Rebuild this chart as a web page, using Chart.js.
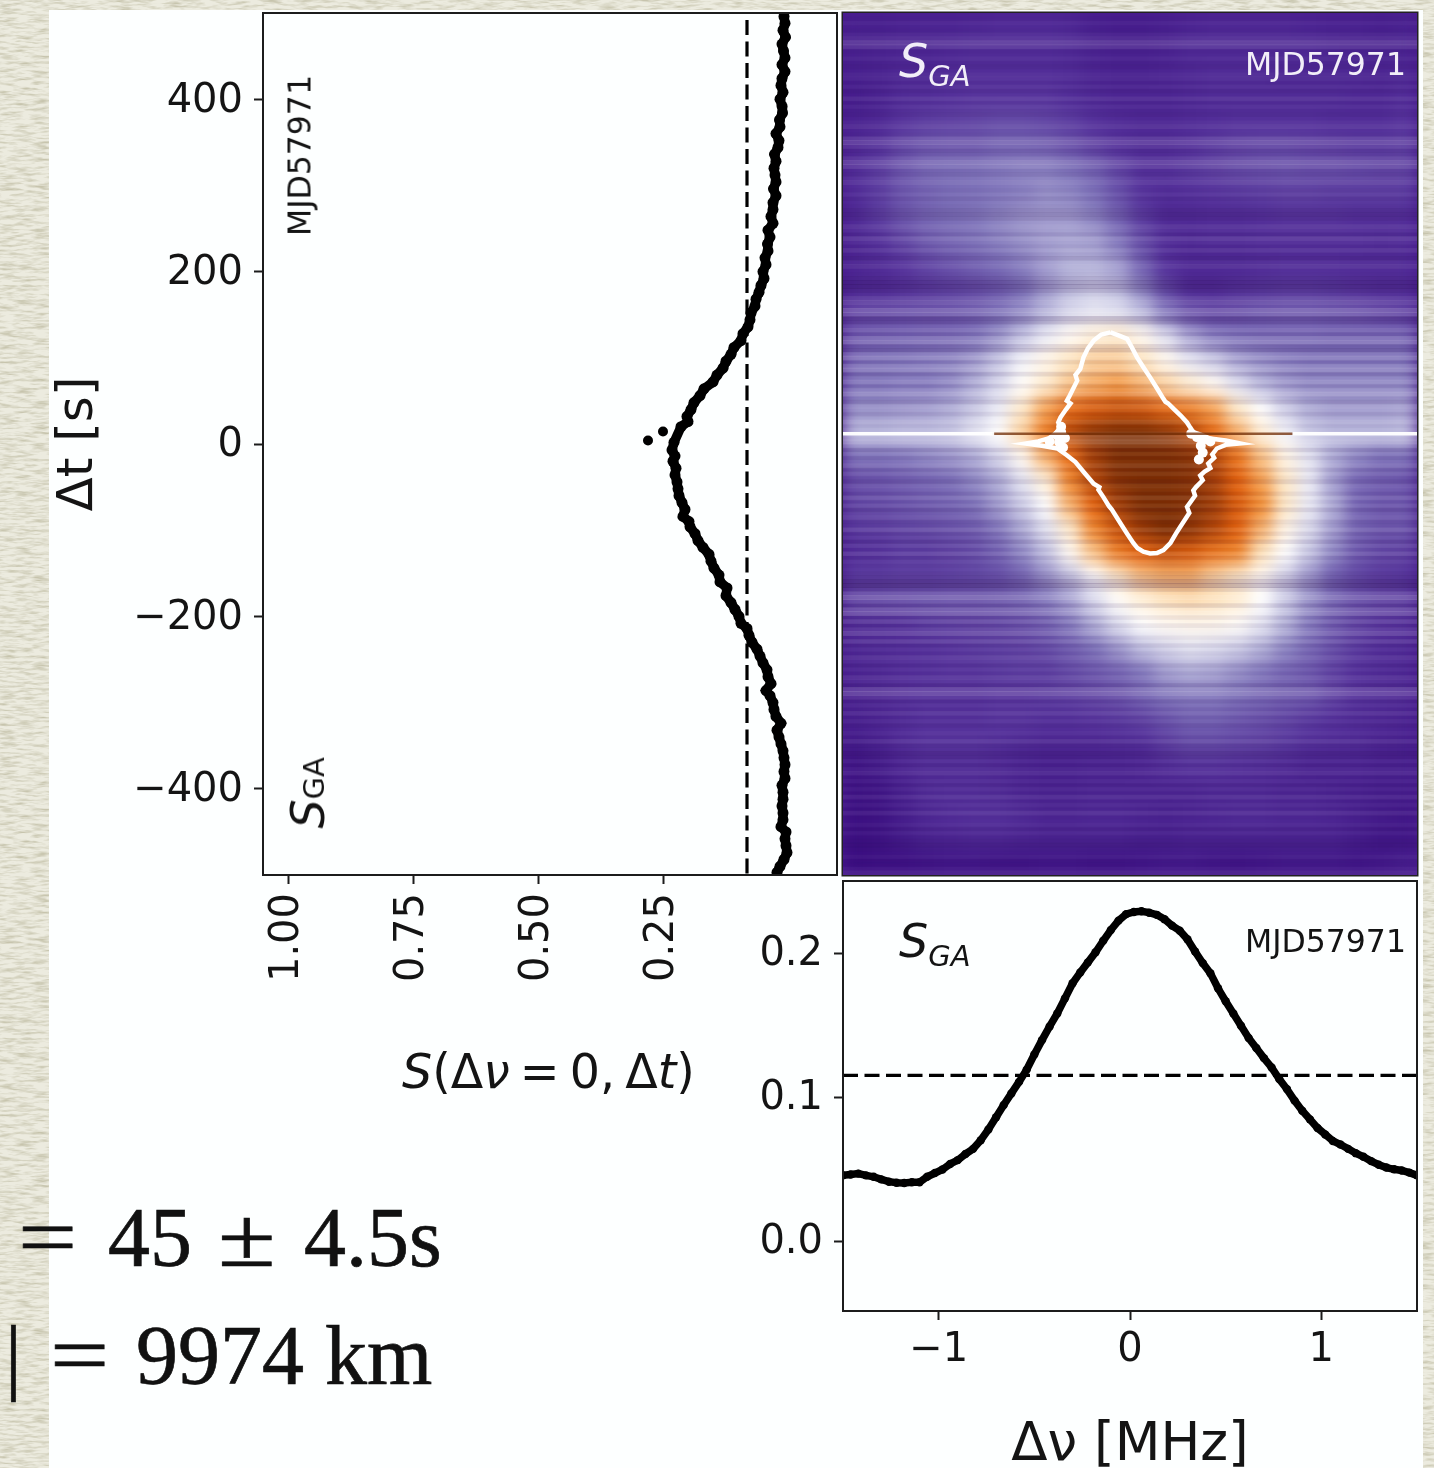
<!DOCTYPE html>
<html>
<head>
<meta charset="utf-8">
<title>S_GA MJD57971</title>
<script src="https://cdn.jsdelivr.net/npm/chart.js@4"></script>
<style>
html, body { margin: 0; padding: 0; width: 1434px; height: 1468px; overflow: hidden; background: #ecebdf; }
#textura { position: absolute; left: 0; top: 0; }
#folha { position: absolute; left: 49px; top: 10px; width: 1374px; height: 1458px; background: #fdffff; }
canvas { position: absolute; display: block; }
#graficoTempo, #graficoFreq { filter: blur(0.5px); }
#caixaCalor { position: absolute; left: 843px; top: 13px; width: 574px; height: 862px; overflow: hidden; background: #4a1a90; box-shadow: 0 0 0 1.5px #222; }
#graficoCalor { left: -30px; top: -30px; filter: blur(8px); }
#graficoFaixas { left: 843px; top: 13px; filter: blur(0.6px); }
#graficoContorno { left: 843px; top: 13px; filter: blur(0.5px); }
.txt { position: absolute; font-family: "DejaVu Sans", sans-serif; color: #141414; white-space: nowrap; line-height: 1; filter: blur(0.4px); }
.branco { color: #f2eef8; }
.sga { font-size: 46px; font-style: italic; }
.sga span { font-size: 29px; position: relative; top: 9px; }
.mjd { font-size: 31.5px; }
.vert { writing-mode: vertical-rl; transform: rotate(180deg); }
.eq { position: absolute; font-family: "Liberation Serif", serif; font-size: 84px; color: #111; white-space: pre; line-height: 1; -webkit-text-stroke: 0.7px #111; }
</style>
</head>
<body>
<svg id="textura" width="1434" height="1468">
  <filter id="papel" color-interpolation-filters="sRGB" x="0" y="0" width="100%" height="100%">
    <feTurbulence type="fractalNoise" baseFrequency="0.06 0.34" numOctaves="3" seed="7"/>
    <feColorMatrix type="matrix" values="0 0 0 0 0.78  0 0 0 0 0.77  0 0 0 0 0.68  2.4 0 0 0 -1.0"/>
  </filter>
  <rect width="1434" height="1468" filter="url(#papel)"/>
</svg>
<div id="folha"></div>

<canvas id="graficoTempo" width="790" height="1130" style="left:49px;top:0"></canvas>
<canvas id="graficoFreq" width="670" height="590" style="left:749px;top:878px"></canvas>
<div id="caixaCalor"><canvas id="graficoCalor" width="634" height="922"></canvas></div>
<canvas id="graficoFaixas" width="574" height="862"></canvas>
<canvas id="graficoContorno" width="574" height="862"></canvas>

<div class="txt sga branco" style="left:899px;top:38px"><i>S</i><span>GA</span></div>
<div class="txt mjd branco" style="left:1245px;top:49px">MJD57971</div>
<div class="txt sga" style="left:899px;top:918px"><i>S</i><span>GA</span></div>
<div class="txt mjd" style="left:1245px;top:926px">MJD57971</div>
<div class="txt mjd vert" style="left:285px;top:75px">MJD57971</div>
<div class="txt sga vert" style="left:285px;top:757px"><i>S</i><span style="font-style:normal;top:0;left:-6px">GA</span></div>
<div class="txt" style="left:402px;top:1048px;font-size:47.5px;word-spacing:-5px"><i>S</i>(Δ<i>ν</i> = 0, Δ<i>t</i>)</div>

<div class="eq" style="left:18px;top:1196px;transform:scaleX(1.25);transform-origin:left">=</div>
<div class="eq" style="left:108px;top:1196px">45</div>
<div class="eq" style="left:218px;top:1196px;transform:scaleX(1.25);transform-origin:left">±</div>
<div class="eq" style="left:304px;top:1196px">4.5s</div>
<div class="eq" style="left:5px;top:1314px">|</div>
<div class="eq" style="left:50px;top:1314px;transform:scaleX(1.25);transform-origin:left">=</div>
<div class="eq" style="left:136px;top:1314px">9974 km</div>

<script>
// Painel esquerdo: S(dnu=0, dt)
const deltaT = [496,488,480,472,464,456,448,440,432,424,416,408,400,392,384,376,368,360,352,344,336,328,320,312,304,296,288,280,272,264,256,248,240,232,224,216,208,200,192,184,176,168,160,152,144,136,128,120,112,104,96,88,80,72,64,56,48,40,32,26,20,2,-7,-14,-20,-28,-36,-44,-52,-60,-68,-76,-84,-90,-96,-104,-112,-120,-128,-136,-144,-152,-160,-167,-176,-184,-192,-200,-208,-214,-222,-230,-238,-246,-254,-262,-270,-278,-286,-292,-300,-308,-316,-324,-332,-340,-348,-356,-364,-372,-380,-388,-396,-404,-412,-420,-428,-436,-444,-450,-458,-466,-474,-482,-490,-497];
const sTempo = [.008,.006,.010,.005,.012,.009,.006,.012,.006,.012,.014,.010,.016,.012,.011,.017,.016,.024,.018,.020,.027,.024,.028,.026,.024,.029,.024,.030,.030,.034,.030,.040,.036,.041,.040,.046,.044,.050,.048,.054,.058,.064,.066,.074,.076,.080,.090,.094,.108,.114,.124,.130,.142,.150,.168,.176,.188,.194,.202,.200,.214,.228,.232,.226,.230,.224,.226,.222,.220,.218,.212,.206,.210,.198,.196,.186,.180,.170,.158,.154,.148,.138,.136,.122,.124,.114,.106,.098,.094,.082,.078,.072,.062,.056,.050,.042,.040,.034,.044,.036,.030,.028,.024,.014,.022,.018,.014,.010,.008,.006,.008,.006,.012,.010,.010,.012,.010,.010,.014,.004,.006,.004,.002,.008,.016,.022];
const deltaTSoltos = [14.5, 4];
const sSoltos = [.25, .28];
const limiarTempo = 0.082;
const ticksTempoY = [400,200,0,-200,-400];
const rotulosTempoY = ['400','200','0','−200','−400'];
const ticksTempoX = [1,.75,.5,.25];
const rotulosTempoX = ['1.00','0.75','0.50','0.25'];

// Painel de baixo: S(dnu, dt=0)
const deltaNu = [-1.5,-1.46,-1.42,-1.38,-1.34,-1.30,-1.26,-1.22,-1.18,-1.14,-1.10,-1.06,-1.02,-.98,-.94,-.90,-.86,-.82,-.78,-.74,-.70,-.66,-.62,-.58,-.54,-.50,-.46,-.42,-.38,-.34,-.30,-.26,-.22,-.18,-.14,-.10,-.06,-.02,.02,.06,.10,.14,.18,.22,.26,.30,.34,.38,.42,.46,.50,.54,.58,.62,.66,.70,.74,.78,.82,.86,.90,.94,.98,1.02,1.06,1.10,1.14,1.18,1.22,1.26,1.30,1.34,1.38,1.42,1.46,1.5];
const sFreq = [.0456,.0462,.0468,.0456,.0446,.0428,.0412,.0405,.0403,.0408,.0408,.0446,.0472,.0497,.0535,.0562,.0604,.0640,.0700,.0775,.0860,.0945,.1025,.1105,.1190,.1295,.1395,.1490,.1580,.1685,.1790,.1865,.1935,.2005,.2085,.2160,.2225,.2270,.2285,.2290,.2280,.2265,.2235,.2190,.2155,.2095,.2010,.1930,.1860,.1755,.1665,.1580,.1495,.1410,.1340,.1270,.1205,.1125,.1055,.0975,.0905,.0845,.0785,.0740,.0695,.0670,.0640,.0610,.0585,.0555,.0530,.0510,.0498,.0490,.0475,.0456];
const limiarFreq = 0.115;
const ticksFreqY = [.2,.1,0];
const rotulosFreqY = ['0.2','0.1','0.0'];
const ticksFreqX = [-1,0,1];
const rotulosFreqX = ['−1','0','1'];

// Mapa de calor, 0-100 (50 = branco), de cima para baixo, esquerda para direita
const linhasCalor = [
[9,9,10,11,11,12,13,13,13,12,9,8,8,9,11,12,12,12,12,11,10,10,9,10],
[9,10,11,11,12,13,13,13,13,12,10,9,9,10,12,12,12,12,12,12,11,10,10,10],
[9,10,12,12,13,14,14,14,14,13,11,10,10,11,12,13,13,13,12,12,12,12,11,12],
[8,10,13,14,15,16,16,16,16,14,12,11,11,11,12,13,13,13,13,13,13,12,12,14],
[10,12,16,18,19,20,21,21,20,18,15,13,12,12,13,14,15,15,15,15,14,14,14,16],
[12,15,20,23,24,24,26,26,25,22,18,15,13,13,15,17,19,20,20,19,18,17,17,18],
[14,18,24,28,29,30,31,32,32,30,26,20,15,15,17,19,21,22,23,22,22,21,20,20],
[14,18,24,27,29,30,31,32,34,33,30,23,16,14,15,16,17,18,19,19,18,18,18,18],
[13,18,24,28,30,31,33,35,36,36,33,27,18,13,13,14,14,15,16,16,16,15,15,15],
[12,15,20,25,28,30,32,34,36,37,36,31,21,14,12,13,13,14,14,14,14,14,13,14],
[11,13,16,20,23,26,29,32,36,39,39,36,26,15,12,12,12,13,14,14,14,13,13,13],
[13,14,16,18,20,22,25,30,36,41,43,41,33,21,14,14,16,17,18,18,17,16,15,15],
[19,20,21,22,23,25,29,33,39,44,46,45,40,30,22,20,21,23,24,24,23,22,20,18],
[24,25,26,27,28,30,34,41,47,52,56,58,53,45,36,31,29,28,28,28,27,27,27,27],
[28,29,30,31,32,35,41,48,54,60,63,63,60,53,46,42,36,33,31,30,30,30,30,30],
[30,30,31,31,33,38,44,51,58,64,67,69,66,62,57,52,45,39,35,33,33,33,33,33],
[34,34,35,36,38,42,47,58,68,78,82,84,83,78,74,68,58,50,43,38,36,36,36,37],
[40,40,41,41,42,46,50,62,74,88,96,100,100,96,88,78,66,56,48,42,40,40,40,41],
[30,30,31,33,35,38,44,52,66,78,92,100,100,100,98,88,76,64,54,46,38,33,30,30],
[22,23,25,27,29,33,38,46,56,72,88,98,100,100,98,90,80,68,58,47,36,28,25,24],
[20,21,23,25,27,30,36,43,50,66,80,92,100,100,98,92,82,70,58,47,38,27,24,24],
[17,18,20,21,23,25,31,38,46,58,72,84,94,100,96,88,80,66,54,45,36,27,24,24],
[14,15,17,17,19,21,26,33,41,52,64,74,80,84,82,76,72,60,50,42,33,24,20,19],
[18,18,19,19,20,21,23,28,35,42,50,58,64,66,66,62,58,52,44,36,27,21,18,17],
[20,21,22,23,24,24,25,27,31,36,44,51,56,60,61,60,57,50,42,34,27,22,20,19],
[13,14,15,17,18,19,20,22,25,31,38,45,50,52,53,53,51,46,39,31,24,19,16,15],
[12,13,14,15,16,17,18,19,21,25,30,35,41,44,46,45,43,39,33,28,22,17,14,13],
[11,12,14,15,16,16,17,18,18,21,24,27,31,36,38,37,34,31,27,24,19,15,13,12],
[11,12,14,15,15,15,16,16,17,18,20,22,26,30,31,31,29,27,25,24,19,15,14,13],
[9,11,13,15,15,15,16,16,15,15,16,17,19,23,26,26,24,22,20,17,15,13,12,11],
[7,10,14,16,16,16,15,13,12,12,12,13,14,18,21,21,20,19,17,15,14,13,11,10],
[5,7,11,13,13,13,12,10,9,9,10,10,11,13,15,15,14,13,12,10,10,10,9,9],
[4,5,9,13,14,14,13,11,10,10,11,11,11,11,11,12,12,12,11,11,10,9,8,8],
[3,4,8,12,14,15,15,13,11,11,12,12,11,10,11,12,13,13,12,12,11,9,7,6],
[3,4,7,10,11,12,12,11,10,10,10,10,9,9,10,10,10,10,10,10,10,8,6,6],
[2,3,3,4,5,5,4,4,5,5,4,4,5,6,6,5,4,5,6,6,6,5,6,8]
];

// Riscos horizontais finos (+ claro, - escuro), de cima para baixo
const riscos = [
0,-1,1,0,-1,1,2,4,3,-1,0,1,-1,-2,0,1,1,-1,
1,-2,0,2,-1,1,-1,-2,0,1,2,0,-1,3,4,2,-2,-1,
2,4,3,-1,-2,1,2,0,-1,1,-2,0,-1,-3,-4,-3,0,2,
1,-2,3,1,-1,2,-1,-3,1,2,0,-1,-3,-5,-6,-4,-1,2,
3,1,5,4,-5,-4,1,3,-2,4,5,-3,-4,3,5,-2,4,5,
-3,2,4,-2,3,5,-1,-3,3,2,-2,1,3,-1,1,4,5,6,
3,-3,2,-2,1,3,-2,2,-1,-3,2,1,-2,3,-1,2,-3,1,
2,-2,-1,3,-2,1,-3,2,-1,3,-2,1,-1,0,-2,-3,-6,-7,
-3,3,5,2,-3,4,5,-2,3,-2,2,4,-1,3,-2,1,-1,2,
1,-2,1,-1,2,1,-3,4,5,2,-2,1,-1,2,-1,1,-2,0,
1,-1,2,-2,-1,-4,-3,1,-2,1,2,-1,1,-2,1,-1,2,-1,
1,-1,2,-1,0,1,-2,1,-1,-2,-3,-1,0,1,-1,-1,1,2
];

// Contorno branco (meia altura)
const contornoNu = [-.102,-.06,-.015,.01,.037,.07,.106,.14,.174,.185,.2,.227,.265,.298,.315,.331,.38,.419,.5,.576,.5,.454,.43,.44,.409,.42,.39,.367,.38,.345,.331,.34,.298,.31,.263,.24,.211,.175,.141,.105,.07,.04,.018,-.015,-.05,-.095,-.11,-.139,-.165,-.16,-.19,-.24,-.285,-.33,-.38,-.46,-.546,-.48,-.426,-.39,-.363,-.375,-.363,-.335,-.311,-.33,-.32,-.276,-.285,-.26,-.243,-.22,-.19,-.15,-.102];
const contornoT = [129.5,126,122,112,100.5,89,77,65,52.7,49,47,41,33,25,19,13.7,10,6.4,4,.6,-1,-5.2,-12,-16,-22.6,-28,-32,-36.5,-42,-50,-54,-60,-73,-80,-96,-104,-115,-123,-126.5,-127,-125,-121,-115,-104,-92,-76,-72,-61.6,-53,-50,-46,-33,-21,-13,-5.2,-2,.6,3,6.4,12,19.5,25,31,40,47,50,54,73.5,80,87,100.5,111,120,127,129.5];
const manchaNu = [-.38,-.36,-.34,-.42,-.37,-.35,-.36,.32,.35,.38,.42,.37,.38,.36];
const manchaT = [10,14,7,3,2,-4,20,12,8,5,3,-2,-10,-18];
const linhaT = 12;
const linhaClaraEsq = [-1.5,-.71];
const linhaClaraDir = [.85,1.5];
const linhaEscura = [-.72,.85];

const fonte = '"DejaVu Sans", sans-serif';
const corTexto = '#141414';
const corEixo = '#1c1c1c';

// Escala PuOr invertida tirada da imagem
const paradas = [
    [0, [54, 8, 124]], [15, [84, 48, 154]], [30, [124, 112, 184]], [40, [185, 184, 220]],
    [50, [255, 255, 255]], [60, [253, 226, 187]], [70, [242, 140, 48]], [80, [228, 96, 10]],
    [90, [166, 62, 6]], [100, [125, 45, 2]]
];
function corCalor(v) {
    for (let i = 1; i < paradas.length; i++) {
        if (v <= paradas[i][0]) {
            const a = paradas[i - 1], b = paradas[i];
            const f = (v - a[0]) / (b[0] - a[0]);
            const c = a[1].map((x, k) => Math.round(x + (b[1][k] - x) * f));
            return 'rgb(' + c.join(',') + ')';
        }
    }
    return 'rgb(125,45,2)';
}

function pares(xs, ys) {
    return xs.map((x, i) => ({ x: x, y: ys[i] }));
}

// Moldura do painel
const moldura = {
    id: 'moldura',
    afterDraw(chart) {
        const a = chart.chartArea, ctx = chart.ctx;
        ctx.save();
        ctx.strokeStyle = corEixo;
        ctx.lineWidth = 2;
        ctx.strokeRect(a.left, a.top, a.right - a.left, a.bottom - a.top);
        ctx.restore();
    }
};

function eixo(ticks, rotulos, tamanho, extra) {
    return Object.assign({
        type: 'linear',
        afterBuildTicks(s) { s.ticks = ticks.map(v => ({ value: v })); },
        afterFit(s) {
            if (s.isHorizontal()) s.height = tamanho; else s.width = tamanho;
            // sem margem extra dos rotulos: a area do grafico fica onde foi pedida
            s.paddingLeft = s.paddingRight = s.paddingTop = s.paddingBottom = 0;
        },
        grid: { drawOnChartArea: false, tickLength: 9, tickColor: corEixo, tickWidth: 2 },
        border: { display: false },
        ticks: {
            autoSkip: false,
            color: corTexto,
            padding: 11,
            labelOffset: 2,
            font: { family: fonte, size: 40 },
            callback(v) { return rotulos[ticks.indexOf(v)]; }
        }
    }, extra);
}

new Chart(document.getElementById('graficoTempo'), {
    type: 'scatter',
    data: {
        datasets: [
            { data: [{ x: limiarTempo, y: 492 }, { x: limiarTempo, y: -500 }], showLine: true, borderColor: '#000', borderWidth: 3.2, borderDash: [15, 6.5], pointRadius: 0 },
            { data: pares(sTempo, deltaT), showLine: true, borderColor: '#000', borderWidth: 9.5, backgroundColor: '#000', pointRadius: 5.5, pointBorderWidth: 0 },
            { data: pares(sSoltos, deltaTSoltos), backgroundColor: '#000', pointRadius: 5, pointBorderWidth: 0 }
        ]
    },
    options: {
        responsive: false,
        animation: false,
        layout: { autoPadding: false, padding: { top: 13, right: 2 } },
        plugins: { legend: { display: false }, tooltip: { enabled: false } },
        scales: {
            x: eixo(ticksTempoX, rotulosTempoX, 255, {
                reverse: true, min: -.098, max: 1.05,
                ticks: {
                    autoSkip: false, color: corTexto, padding: 9, minRotation: 90, maxRotation: 90,
                    font: { family: fonte, size: 40 },
                    callback(v) { return rotulosTempoX[ticksTempoX.indexOf(v)]; }
                }
            }),
            y: eixo(ticksTempoY, rotulosTempoY, 214, {
                min: -500, max: 500,
                title: { display: true, text: 'Δt [s]', color: corTexto, padding: 0, font: { family: fonte, size: 50 } }
            })
        }
    },
    plugins: [moldura]
});

new Chart(document.getElementById('graficoFreq'), {
    type: 'scatter',
    data: {
        datasets: [
            { data: [{ x: -1.5, y: limiarFreq }, { x: 1.5, y: limiarFreq }], showLine: true, borderColor: '#000', borderWidth: 3.2, borderDash: [15, 6.5], pointRadius: 0 },
            { data: pares(deltaNu, sFreq), showLine: true, borderColor: '#000', borderWidth: 7.5, backgroundColor: '#000', pointRadius: 4.2, pointBorderWidth: 0 }
        ]
    },
    options: {
        responsive: false,
        animation: false,
        layout: { autoPadding: false, padding: { top: 3, right: 2 } },
        plugins: { legend: { display: false }, tooltip: { enabled: false } },
        scales: {
            x: eixo(ticksFreqX, rotulosFreqX, 157, {
                min: -1.5, max: 1.5,
                ticks: {
                    autoSkip: false, color: corTexto, padding: 7,
                    font: { family: fonte, size: 40 },
                    callback(v) { return rotulosFreqX[ticksFreqX.indexOf(v)]; }
                },
                title: { display: true, text: 'Δν [MHz]', color: corTexto, padding: { top: 0, bottom: -5 }, font: { family: fonte, size: 53, lineHeight: 1 } }
            }),
            y: eixo(ticksFreqY, rotulosFreqY, 94, { min: -.0486, max: .25 })
        }
    },
    plugins: [moldura]
});

// Mapa de calor como barras flutuantes: uma serie por linha
const colunasCalor = linhasCalor[0].map((_, j) => j);
new Chart(document.getElementById('graficoCalor'), {
    type: 'bar',
    data: {
        labels: colunasCalor,
        datasets: linhasCalor.map((linha, i) => ({
            data: linha.map(() => [500 - (i + 1) * 1000 / linhasCalor.length, 500 - i * 1000 / linhasCalor.length]),
            backgroundColor: linha.map(corCalor),
            borderWidth: 0,
            grouped: false,
            barPercentage: 1,
            categoryPercentage: 1
        }))
    },
    options: {
        responsive: false,
        animation: false,
        layout: { padding: 30 },
        plugins: { legend: { display: false }, tooltip: { enabled: false } },
        scales: {
            x: { display: false },
            y: { display: false, min: -500, max: 500 }
        }
    }
});

new Chart(document.getElementById('graficoFaixas'), {
    type: 'bar',
    data: {
        labels: riscos.map((_, i) => i),
        datasets: [{
            data: riscos.map(() => [0, 1]),
            backgroundColor: riscos.map(v => v >= 0 ? 'rgba(255,255,255,' + (v * 0.032) + ')' : 'rgba(30,0,60,' + (-v * 0.032) + ')'),
            borderWidth: 0,
            barPercentage: 1,
            categoryPercentage: 1
        }]
    },
    options: {
        indexAxis: 'y',
        responsive: false,
        animation: false,
        plugins: { legend: { display: false }, tooltip: { enabled: false } },
        scales: {
            x: { display: false, min: 0, max: 1 },
            y: { display: false }
        }
    }
});

new Chart(document.getElementById('graficoContorno'), {
    type: 'scatter',
    data: {
        datasets: [
            { data: linhaClaraEsq.map(x => ({ x: x, y: linhaT })), showLine: true, borderColor: 'rgba(255,255,255,.95)', borderWidth: 3.5, pointRadius: 0 },
            { data: linhaClaraDir.map(x => ({ x: x, y: linhaT })), showLine: true, borderColor: 'rgba(255,255,255,.95)', borderWidth: 3.5, pointRadius: 0 },
            { data: linhaEscura.map(x => ({ x: x, y: linhaT })), showLine: true, borderColor: 'rgba(110,40,0,.75)', borderWidth: 2.5, pointRadius: 0 },
            { data: pares(contornoNu, contornoT), showLine: true, borderColor: '#fff', borderWidth: 4.5, pointRadius: 0 },
            { data: pares(manchaNu, manchaT), backgroundColor: '#fff', pointRadius: 5, pointBorderWidth: 0 }
        ]
    },
    options: {
        responsive: false,
        animation: false,
        layout: { autoPadding: false },
        plugins: { legend: { display: false }, tooltip: { enabled: false } },
        scales: {
            x: { display: false, min: -1.5, max: 1.5 },
            y: { display: false, min: -500, max: 500 }
        }
    }
});
</script>
</body>
</html>
